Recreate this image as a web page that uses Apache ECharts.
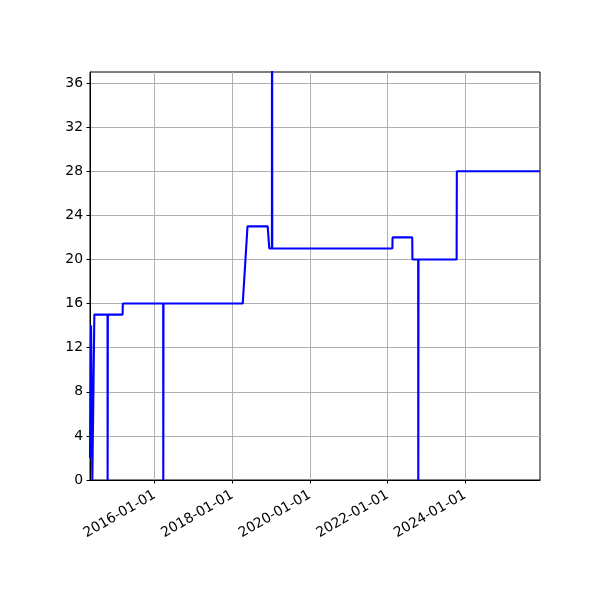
<!DOCTYPE html>
<html>
<head>
<meta charset="utf-8">
<script src="https://cdn.jsdelivr.net/npm/echarts@6/dist/echarts.min.js"></script>
<style>html,body{margin:0;padding:0;background:#fff;}#c{width:600px;height:600px;}</style>
</head>
<body>
<div id="c"></div>
<script>
var dates = ['2014-05-02','2014-05-12','2014-05-22','2014-05-24','2014-06-10','2014-06-12','2014-10-14','2014-10-15','2014-10-17','2015-03-05','2015-03-07','2016-03-21','2016-03-22','2016-03-24','2018-04-09','2018-05-24','2018-11-30','2018-12-15','2019-01-09','2019-01-10','2019-01-12','2022-02-16','2022-02-18','2022-08-22','2022-08-24','2022-10-17','2022-10-18','2022-10-20','2023-10-14','2023-10-16','2025-12-07'];
var values = [2, 14, 14, 0, 0, 15, 15, 0, 15, 15, 16, 16, 0, 16, 16, 23, 23, 21, 21, 60, 21, 21, 22, 22, 20, 20, 0, 20, 20, 28, 28];
var xTickLabels = ['2016-01-01','2018-01-01','2020-01-01','2022-01-01','2024-01-01'];
var yTicks = [0, 4, 8, 12, 16, 20, 24, 28, 32, 36];

function ts(s){ var p = s.split('-'); return Date.UTC(+p[0], +p[1]-1, +p[2]); }
var seriesData = dates.map(function(d, i){ return [ts(d), values[i]]; });
var xTicks = xTickLabels.map(ts);
function fmt(v){ var d = new Date(v); function z(n){return (n<10?'0':'')+n;} return d.getUTCFullYear()+'-'+z(d.getUTCMonth()+1)+'-'+z(d.getUTCDate()); }

var chart = echarts.init(document.getElementById('c'), null, {renderer:'canvas'});
var font = 'DejaVu Sans';
chart.setOption({
  animation: false,
  backgroundColor: '#ffffff',
  grid: {left: 90, right: 60, top: 72, bottom: 120, show: true, borderColor: '#000', borderWidth: 1, containLabel: false},
  xAxis: {
    type: 'value',
    min: ts(dates[0]),
    max: ts(dates[dates.length-1]),
    axisLine: {show: true, lineStyle: {color: '#000', width: 1}},
    axisTick: {show: true, inside: false, length: 3.5, lineStyle: {color: '#000', width: 1}, customValues: xTicks},
    axisLabel: {customValues: xTicks, rotate: 30, margin: 14, color: '#000', fontFamily: font, fontSize: 13.9, formatter: function(v){ return fmt(v); }},
    splitLine: {show: true, lineStyle: {color: '#b0b0b0', width: 1}}
  },
  yAxis: {
    type: 'value',
    min: 0, max: 37,
    axisLine: {show: true, lineStyle: {color: '#000', width: 1}},
    axisTick: {show: true, inside: false, length: 3.5, lineStyle: {color: '#000', width: 1}, customValues: yTicks},
    axisLabel: {customValues: yTicks, margin: 7, color: '#000', fontFamily: font, fontSize: 13.9},
    splitLine: {show: true, lineStyle: {color: '#b0b0b0', width: 1}}
  },
  series: [{
    type: 'line',
    data: seriesData,
    showSymbol: false,
    symbol: 'none',
    clip: true,
    lineStyle: {color: '#0000ff', width: 2.1},
    z: 5
  }]
});
</script>
</body>
</html>
